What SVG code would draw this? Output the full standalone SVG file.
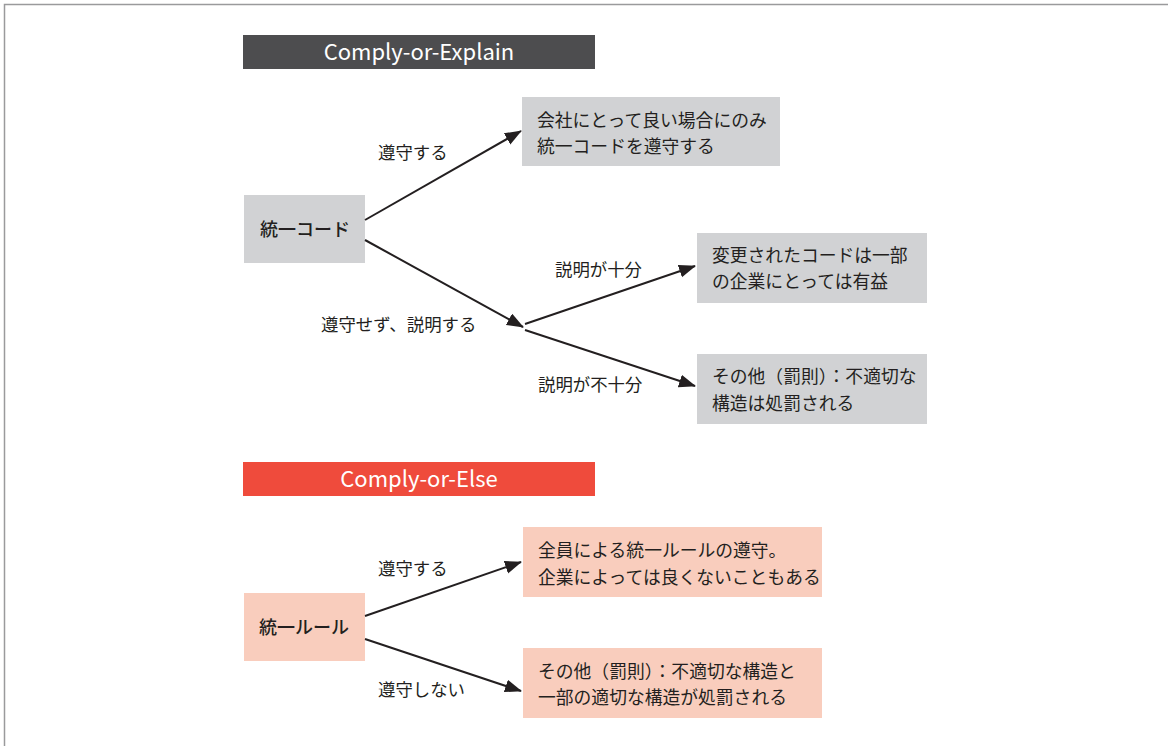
<svg xmlns="http://www.w3.org/2000/svg" width="1168" height="746" viewBox="0 0 1168 746">
<defs>
<marker id="arr" markerUnits="userSpaceOnUse" markerWidth="18" markerHeight="14" refX="16" refY="6.5" orient="auto">
<path d="M0,0 L17,6.5 L0,13 z" fill="#231f20"/>
</marker>
<style>
text{font-family:"Noto Sans CJK JP","Noto Sans",sans-serif;fill:#231f20;}
.t{font-size:17.8px;}
.lab{font-size:17.4px;}
.hd{font-size:22px;fill:#ffffff;text-anchor:middle;}
.nd{font-size:18px;font-weight:500;}
.g{fill:#d1d2d4;}
.p{fill:#f9cdbd;}
.c{stroke:#231f20;stroke-width:2;fill:none;}
</style>
</defs>
<rect x="0" y="0" width="1168" height="746" fill="#ffffff"/>
<path d="M4.5,746 V4.5 H1168" fill="none" stroke="#9a9a9c" stroke-width="1.5"/>

<g id="header-explain">
<rect x="243" y="35" width="352" height="34" fill="#4d4d4f"/>
<text class="hd" x="419" y="59.5">Comply-or-Explain</text>
</g>
<g id="node-code">
<rect class="g" x="244" y="195" width="121" height="68"/>
<text class="nd" x="260" y="236">統一コード</text>
</g>
<g id="node-comply-explain">
<rect class="g" x="522" y="97" width="258" height="69"/>
<text class="t" x="537" y="127">会社にとって良い場合にのみ</text>
<text class="t" x="537" y="153">統一コードを遵守する</text>
</g>
<g id="node-sufficient">
<rect class="g" x="697" y="233" width="230" height="70"/>
<text class="t" x="712" y="262">変更されたコードは一部</text>
<text class="t" x="712" y="288">の企業にとっては有益</text>
</g>
<g id="node-insufficient">
<rect class="g" x="697" y="354" width="230" height="70"/>
<text class="t" x="712" y="383">その他（罰則）：不適切な</text>
<text class="t" x="712" y="410">構造は処罰される</text>
</g>

<g id="header-else">
<rect x="243" y="462" width="352" height="34" fill="#ef4b3c"/>
<text class="hd" x="419" y="486.5">Comply-or-Else</text>
</g>
<g id="node-rule">
<rect class="p" x="244" y="593" width="121" height="68"/>
<text class="nd" x="259" y="634">統一ルール</text>
</g>
<g id="node-comply-else">
<rect class="p" x="523" y="527" width="299" height="70"/>
<text class="t" x="538" y="557">全員による統一ルールの遵守。</text>
<text class="t" x="538" y="584">企業によっては良くないこともある</text>
</g>
<g id="node-noncomply-else">
<rect class="p" x="523" y="648" width="299" height="70"/>
<text class="t" x="538" y="678">その他（罰則）：不適切な構造と</text>
<text class="t" x="538" y="704">一部の適切な構造が処罰される</text>
</g>

<g id="connectors">
<line class="c" x1="365" y1="220" x2="521" y2="131" marker-end="url(#arr)"/>
<line class="c" x1="365" y1="240" x2="523" y2="327" marker-end="url(#arr)"/>
<line class="c" x1="525" y1="324" x2="695" y2="266" marker-end="url(#arr)"/>
<line class="c" x1="525" y1="330" x2="695" y2="386" marker-end="url(#arr)"/>
<line class="c" x1="365" y1="616" x2="521" y2="562" marker-end="url(#arr)"/>
<line class="c" x1="365" y1="639" x2="521" y2="691" marker-end="url(#arr)"/>
</g>
<g id="labels">
<text class="lab" x="378" y="159">遵守する</text>
<text class="lab" x="555" y="276">説明が十分</text>
<text class="lab" x="321" y="331">遵守せず、説明する</text>
<text class="lab" x="538" y="391">説明が不十分</text>
<text class="lab" x="378" y="575">遵守する</text>
<text class="lab" x="378" y="696">遵守しない</text>
</g>
</svg>
